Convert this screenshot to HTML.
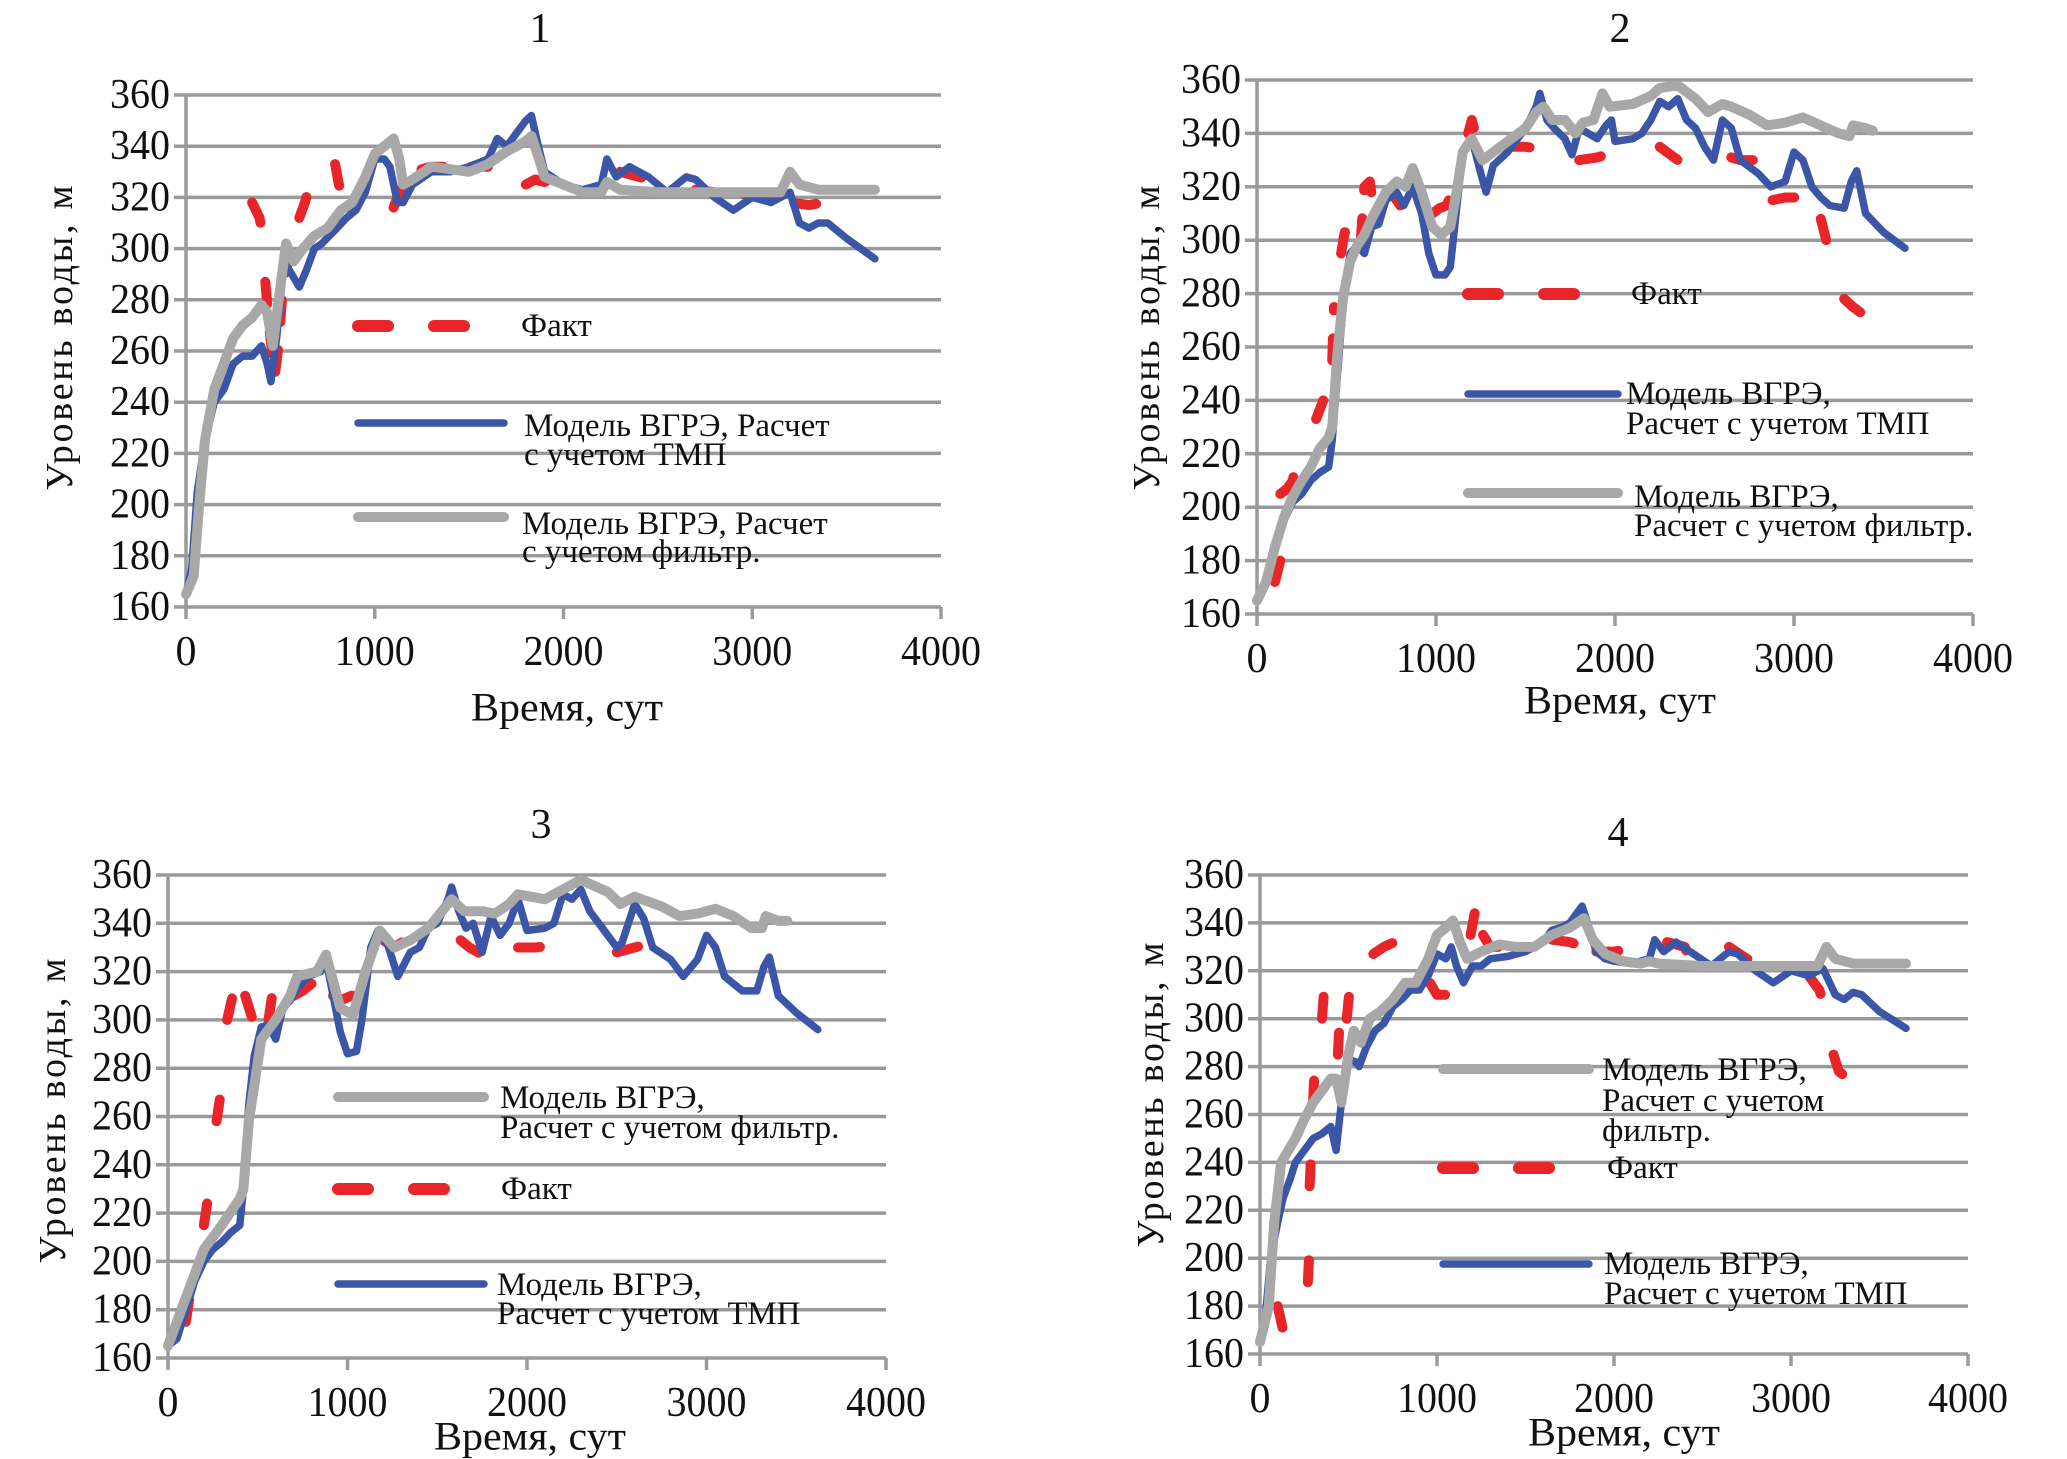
<!DOCTYPE html>
<html><head><meta charset="utf-8">
<style>
html,body{margin:0;padding:0;background:#fff;}
svg{display:block;}
text{font-family:"Liberation Serif",serif;fill:#111;}
</style></head>
<body>
<svg id="fig" width="2067" height="1459" viewBox="0 0 2067 1459" xmlns="http://www.w3.org/2000/svg"></svg>
<script>
const yTicks = [160,180,200,220,240,260,280,300,320,340,360];
const xTicks = [0,1000,2000,3000,4000];

// Chart 1
const c1BlueX = [0,30,60,100,150,200,250,300,350,400,430,450,480,520,560,600,640,680,720,760,800,850,900,950,1000,1050,1080,1120,1150,1200,1300,1400,1500,1600,1650,1700,1750,1800,1830,1860,1900,2000,2100,2200,2230,2280,2350,2450,2550,2650,2700,2800,2900,3000,3100,3200,3250,3300,3350,3400,3500,3650];
const c1BlueY = [165,175,205,225,240,245,255,258,258,262,255,248,265,295,290,285,292,300,302,305,308,312,315,322,335,335,332,318,318,325,330,330,332,335,343,340,345,350,352,342,330,325,323,325,335,328,332,328,322,328,327,320,315,320,318,322,310,308,310,310,304,296];
const c1GrayX = [0,40,70,100,150,200,250,300,350,400,430,460,500,530,570,620,680,750,820,880,950,1000,1050,1100,1130,1150,1200,1300,1400,1500,1600,1700,1800,1830,1870,1900,2000,2100,2200,2230,2300,2500,3000,3150,3200,3250,3350,3650];
const c1GrayY = [165,172,200,225,245,255,265,270,273,278,275,262,285,302,295,300,305,308,315,318,328,337,340,343,335,325,327,332,331,330,333,338,342,344,335,328,325,322,322,326,323,322,322,322,330,325,323,323];
const c1FactX = [350,390,410,null,420,440,470,490,510,540,null,600,630,660,null,790,810,840,880,null,1100,1130,1200,1300,1400,1500,1600,null,1800,1850,1900,1950,2000,null,2300,2400,2500,null,2700,2800,2900,3000,3100,3200,3300,3380];
const c1FactY = [318,312,303,null,287,270,250,262,282,295,null,312,318,326,null,333,325,318,315,null,316,322,330,332,332,332,332,null,325,327,326,328,327,null,330,328,326,null,323,322,321,321,320,318,317,318];

// Chart 2
const c2BlueX = [0,50,100,150,200,250,300,350,400,420,450,480,520,560,600,640,680,720,780,820,870,920,960,1000,1050,1080,1120,1150,1200,1250,1280,1320,1400,1500,1560,1580,1620,1660,1720,1760,1800,1850,1900,1950,1980,2000,2100,2150,2200,2250,2300,2350,2400,2450,2500,2550,2600,2650,2700,2800,2870,2950,3000,3050,3100,3150,3200,3280,3320,3350,3400,3500,3620];
const c2BlueY = [165,172,185,195,202,205,210,213,215,225,250,275,295,298,295,305,306,315,318,313,320,310,295,287,287,290,315,333,338,325,318,328,333,342,350,355,345,342,338,332,342,340,338,343,345,337,338,340,345,352,350,353,345,342,335,330,345,342,330,325,320,322,333,330,320,316,313,312,322,326,310,303,297];
const c2GrayX = [0,50,100,150,200,250,300,350,400,420,450,480,520,560,600,640,680,720,780,830,870,920,980,1030,1080,1120,1150,1200,1260,1320,1400,1500,1560,1600,1650,1720,1780,1820,1880,1930,1970,2100,2200,2250,2350,2450,2520,2600,2650,2750,2850,2950,3050,3150,3250,3310,3330,3400,3440];
const c2GrayY = [165,172,185,196,204,210,215,222,226,230,258,278,292,298,302,308,313,318,322,320,327,318,305,302,305,320,333,338,330,333,337,342,348,350,345,345,340,344,345,355,350,351,354,357,358,353,348,351,350,347,343,344,346,343,340,339,343,342,341];
const c2FactX = [100,130,null,130,170,200,220,null,330,370,null,420,430,null,470,490,510,null,580,600,630,650,null,750,780,800,null,980,1020,1060,1100,null,1180,1200,1220,null,1400,1500,1600,null,1800,1900,1950,null,2250,2350,2450,null,2650,2700,2800,2850,null,2880,2950,3000,3050,3060,null,3150,3180,3230,null,3280,3330,3370];
const c2FactY = [172,180,null,205,207,210,217,null,233,240,null,255,275,null,295,303,303,null,300,320,322,312,null,318,315,313,null,310,312,313,320,null,340,345,340,null,335,335,334,null,330,331,332,null,335,330,328,null,331,330,330,330,null,315,316,316,317,322,null,308,300,293,null,278,275,273];

// Chart 3
const c3BlueX = [0,50,100,150,200,250,300,350,400,420,450,480,520,560,600,640,680,720,780,850,880,920,960,1000,1050,1080,1130,1170,1220,1280,1350,1400,1450,1500,1560,1580,1620,1660,1700,1750,1800,1850,1900,1950,2000,2100,2150,2200,2250,2300,2350,2400,2450,2500,2530,2600,2650,2700,2800,2870,2950,3000,3050,3100,3150,3200,3280,3320,3350,3400,3500,3620];
const c3BlueY = [165,168,180,192,200,205,208,212,215,230,265,285,297,298,292,305,308,313,318,320,325,310,295,286,287,300,330,337,332,318,328,330,338,340,350,355,345,338,340,328,343,335,340,350,337,338,340,352,350,354,345,340,335,330,332,348,342,330,325,318,325,335,330,318,315,312,312,322,326,310,303,296];
const c3GrayX = [0,100,200,300,400,420,450,520,600,680,720,830,880,960,1030,1100,1180,1260,1350,1450,1580,1650,1750,1820,1900,1950,2100,2200,2300,2450,2520,2600,2750,2850,2950,3050,3150,3250,3310,3330,3400,3450];
const c3GrayY = [165,185,205,215,226,230,258,292,300,310,318,320,327,305,302,320,337,330,333,338,350,345,345,344,348,352,350,354,358,353,348,351,347,343,344,346,343,338,338,343,341,341];
const c3FactX = [100,130,150,null,200,220,240,null,270,290,300,null,330,360,400,null,430,480,500,null,560,580,620,650,null,700,750,800,null,920,960,1020,1080,1150,null,1200,1260,1320,null,1630,1680,1750,null,1950,2050,2150,null,2500,2600,2700];
const c3FactY = [175,190,195,null,215,225,235,null,258,268,278,null,300,310,317,null,310,298,295,null,300,310,310,312,null,310,312,315,null,310,308,310,310,312,null,333,330,333,null,333,330,327,null,330,330,331,null,328,330,332];

// Chart 4
const c4BlueX = [0,30,60,100,130,170,200,250,300,350,400,430,460,500,540,560,600,650,700,750,800,850,900,950,1000,1050,1080,1110,1150,1200,1250,1300,1400,1500,1600,1650,1700,1750,1800,1820,1850,1900,1950,2000,2100,2200,2230,2280,2350,2450,2550,2650,2700,2800,2900,3000,3100,3180,3250,3300,3350,3400,3500,3650];
const c4BlueY = [165,175,200,215,225,233,240,245,250,252,255,245,265,283,282,280,288,295,298,305,308,312,312,318,327,325,330,322,315,322,322,325,326,328,332,337,338,340,345,347,340,328,325,324,323,325,333,328,332,327,322,328,327,320,315,320,318,321,310,308,311,310,303,296];
const c4GrayX = [0,50,80,120,160,200,250,300,350,400,430,460,500,530,570,620,680,750,820,880,950,1000,1050,1090,1130,1170,1250,1350,1450,1550,1650,1750,1830,1880,1950,2050,2150,2200,2250,2500,3000,3150,3200,3250,3350,3650];
const c4GrayY = [165,180,215,240,245,250,258,265,270,275,275,265,285,295,290,300,303,308,315,315,325,335,338,341,332,325,328,331,330,330,335,338,342,333,327,324,323,324,323,322,322,322,330,325,323,323];
const c4FactX = [100,130,null,270,280,null,280,290,null,300,310,null,350,370,null,440,450,null,490,510,null,640,700,760,800,null,960,1000,1060,1100,null,1190,1210,1230,null,1260,1300,1400,1450,null,1650,1750,1830,null,1900,2000,2080,null,2300,2400,2450,null,2650,2750,2850,null,3100,3160,3200,null,3240,3270,3320,3380];
const c4FactY = [180,170,null,190,205,null,230,245,null,265,283,null,300,320,null,285,300,null,300,315,null,327,330,332,330,null,315,310,310,312,null,335,343,352,null,335,330,330,330,null,333,332,330,null,328,328,329,null,332,330,320,null,330,325,323,null,318,312,303,null,285,278,275,278];

const NS = "http://www.w3.org/2000/svg";
const svg = document.getElementById('fig');
function mk(tag, attrs, parent){
  const e = document.createElementNS(NS, tag);
  for (const k in attrs) e.setAttribute(k, attrs[k]);
  (parent||svg).appendChild(e);
  return e;
}

const charts = [
 {id:'1', L:186, R:941, T:95, B:607, title:[540,29], xt:[567,707], yt:[60,338],
  blue:[c1BlueX,c1BlueY], gray:[c1GrayX,c1GrayY], fact:[c1FactX,c1FactY],
  legend:[
   {kind:'fact', x1:358, x2:477, y:326, tx:521, lines:['Факт'], ty:[326]},
   {kind:'blue', x1:358, x2:504, y:423, tx:524, lines:['Модель ВГРЭ, Расчет','с учетом ТМП'], ty:[426,455]},
   {kind:'gray', x1:358, x2:504, y:517, tx:522, lines:['Модель ВГРЭ, Расчет','с учетом фильтр.'], ty:[524,552]}
  ]},
 {id:'2', L:1257, R:1973, T:80, B:614, title:[1620,29], xt:[1620,700], yt:[1147,338],
  blue:[c2BlueX,c2BlueY], gray:[c2GrayX,c2GrayY], fact:[c2FactX,c2FactY],
  legend:[
   {kind:'fact', x1:1468, x2:1618, y:294, tx:1631, lines:['Факт'], ty:[294]},
   {kind:'blue', x1:1468, x2:1618, y:394, tx:1626, lines:['Модель ВГРЭ,','Расчет с учетом ТМП'], ty:[394,424]},
   {kind:'gray', x1:1468, x2:1618, y:493, tx:1634, lines:['Модель ВГРЭ,','Расчет с учетом фильтр.'], ty:[497,526]}
  ]},
 {id:'3', L:168, R:886, T:875, B:1358, title:[541,825], xt:[530,1436], yt:[53,1111],
  blue:[c3BlueX,c3BlueY], gray:[c3GrayX,c3GrayY], fact:[c3FactX,c3FactY],
  legend:[
   {kind:'gray', x1:338, x2:484, y:1097, tx:500, lines:['Модель ВГРЭ,','Расчет с учетом фильтр.'], ty:[1098,1128]},
   {kind:'fact', x1:338, x2:484, y:1189, tx:501, lines:['Факт'], ty:[1189]},
   {kind:'blue', x1:338, x2:484, y:1284, tx:497, lines:['Модель ВГРЭ,','Расчет с учетом ТМП'], ty:[1285,1314]}
  ]},
 {id:'4', L:1260, R:1968, T:875, B:1354, title:[1618,833], xt:[1624,1432], yt:[1151,1095],
  blue:[c4BlueX,c4BlueY], gray:[c4GrayX,c4GrayY], fact:[c4FactX,c4FactY],
  legend:[
   {kind:'gray', x1:1443, x2:1589, y:1069, tx:1602, lines:['Модель ВГРЭ,','Расчет с учетом','фильтр.'], ty:[1070,1101,1131]},
   {kind:'fact', x1:1443, x2:1589, y:1168, tx:1607, lines:['Факт'], ty:[1168]},
   {kind:'blue', x1:1443, x2:1589, y:1264, tx:1604, lines:['Модель ВГРЭ,','Расчет с учетом ТМП'], ty:[1264,1294]}
  ]}
];

const style = {
  blue:{stroke:'#3b56a6','stroke-width':7.5},
  gray:{stroke:'#a8a8a8','stroke-width':10},
  fact:{stroke:'#e8262a','stroke-width':10,'stroke-dasharray':'22 28'}
};

function pathFrom(xs, ys, xf, yf){
  let d='', pen=false;
  for (let i=0;i<xs.length;i++){
    if (xs[i]===null || ys[i]===null){ pen=false; continue; }
    d += (pen?'L':'M') + xf(xs[i]).toFixed(1) + ',' + yf(ys[i]).toFixed(1) + ' ';
    pen=true;
  }
  return d;
}

charts.forEach(c=>{
  const g = mk('g',{});
  
  
  const xf = d => c.L + d/4000*(c.R-c.L);
  const yf = v => c.B - (v-160)/200*(c.B-c.T);

  const t = mk('text',{x:c.title[0], y:c.title[1], 'text-anchor':'middle','dominant-baseline':'central','font-size':42}, g);
  t.textContent = c.id;
  
  

  yTicks.forEach(v=>{
    const ln = mk('line',{x1:c.L-12, x2:c.R, y1:yf(v), y2:yf(v), stroke:'#9a9a9a','stroke-width':3.5}, g);
    
    
    const tl = mk('text',{x:c.L-16, y:yf(v), 'text-anchor':'end','dominant-baseline':'central','font-size':42, textLength:60, lengthAdjust:'spacingAndGlyphs'}, g);
    tl.textContent = v;
    
    
  });
  const ax = mk('line',{x1:c.L, x2:c.L, y1:c.T, y2:c.B, stroke:'#9a9a9a','stroke-width':3.5}, g);
  
  
  xTicks.forEach(d=>{
    const tk = mk('line',{x1:xf(d), x2:xf(d), y1:c.B, y2:c.B+12, stroke:'#9a9a9a','stroke-width':3.5}, g);
    
    
    const tl = mk('text',{x:xf(d), y:c.B+45, 'text-anchor':'middle','dominant-baseline':'central','font-size':42}, g);
    if (d>0){ tl.setAttribute('textLength', 80); tl.setAttribute('lengthAdjust','spacingAndGlyphs'); }
    tl.textContent = d;
    
    
  });
  const xt = mk('text',{x:c.xt[0], y:c.xt[1], 'text-anchor':'middle','dominant-baseline':'central','font-size':40, textLength:192, lengthAdjust:'spacingAndGlyphs'}, g);
  xt.textContent = 'Время, сут';
  
  
  const yt = mk('text',{x:0, y:0, transform:`translate(${c.yt[0]},${c.yt[1]}) rotate(-90)`, 'text-anchor':'middle','dominant-baseline':'central','font-size':38, textLength:305, lengthAdjust:'spacing'}, g);
  yt.textContent = 'Уровень воды, м';
  
  

  ['fact','blue','gray'].forEach(k=>{
    const p = mk('path', Object.assign({d:pathFrom(c[k][0],c[k][1],xf,yf), fill:'none','stroke-linecap':'round','stroke-linejoin':'round'}, style[k]), g);
    
    
  });

  c.legend.forEach(l=>{
    const ls = mk('line', Object.assign({x1:l.x1, x2:l.x2, y1:l.y, y2:l.y,'stroke-linecap':'round'}, style[l.kind], l.kind==='fact'?{'stroke-dasharray':'30 46','stroke-width':12}:{}), g);
    
    
    l.lines.forEach((s,i)=>{
      const tx = mk('text',{x:l.tx, y:l.ty[i], 'dominant-baseline':'central','font-size':33}, g);
      tx.textContent = s;
      
      
    });
  });
});
</script>
</body></html>
